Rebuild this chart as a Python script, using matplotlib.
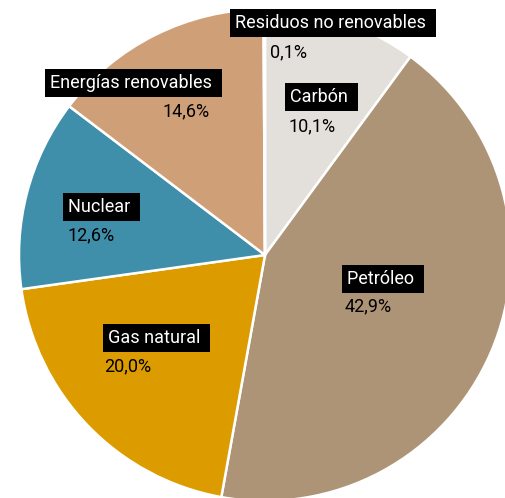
import matplotlib.pyplot as plt

# Datos
categorias = ["Carbón", "Petróleo", "Gas natural", "Nuclear", "Energías renovables", "Residuos no renovables"]
valores = [10.1, 42.9, 20.0, 12.6, 14.6, 0.1]
etiquetas_pct = ["10,1%", "42,9%", "20,0%", "12,6%", "14,6%", "0,1%"]
COLORS = ["#e3e0db", "#ae9476", "#dc9c00", "#3f8fab", "#cfa078", "#e06a3c"]

# posiciones (pixeles) de etiqueta y porcentaje
POS_LABEL = [(290, 97), (347, 279), (108, 338), (68, 207), (50, 83), (235, 23)]
POS_PCT = [(288, 126), (345, 306), (104, 366), (68, 235), (162, 111), (270, 52)]

W, H = 505, 498
CX, CY, R = 265, 255, 246


def px(x, y):
    return (x - CX) / R, (CY - y) / R


fig = plt.figure(figsize=(W / 100, H / 100), dpi=100)
ax = fig.add_axes([0, 0, 1, 1])
plt.rcParams['font.family'] = ['Roboto', 'DejaVu Sans']

ax.pie(valores, colors=COLORS, startangle=90, counterclock=False, radius=1,
       wedgeprops=dict(edgecolor='white', linewidth=1.8))

for i, cat in enumerate(categorias):
    x, y = px(*POS_LABEL[i])
    ax.text(x, y, cat + " ", color='white', fontsize=13, ha='left', va='center',
            bbox=dict(boxstyle='square,pad=0.3', facecolor='black', edgecolor='none'))
    x, y = px(*POS_PCT[i])
    ax.text(x, y, etiquetas_pct[i], color='black', fontsize=13, ha='left', va='center')

ax.set_xlim(-CX / R, (W - CX) / R)
ax.set_ylim((CY - H) / R, CY / R)
ax.set_aspect('auto')
ax.axis('off')

fig.savefig("out.png", dpi=100, facecolor='white')
